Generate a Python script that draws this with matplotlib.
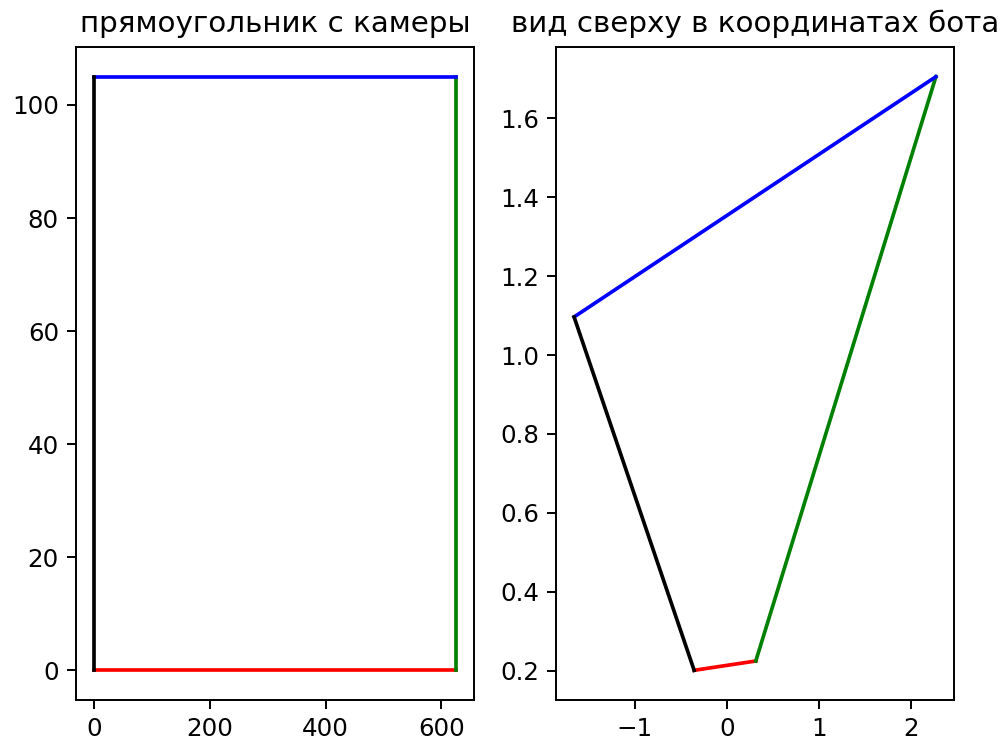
import matplotlib
matplotlib.use("Agg")
import matplotlib.pyplot as plt

# rectangle seen by the camera (pixel coords), corners in drawing order
cam_x = [0, 625, 625, 0, 0]
cam_y = [0, 0, 105, 105, 0]

# same rectangle in bot coordinates (top view)
bot_x = [-0.354, 0.315, 2.27, -1.657, -0.354]
bot_y = [0.201, 0.2246, 1.7054, 1.0965, 0.201]

edge_colors = ["red", "green", "blue", "black"]

DPI = 176
W, H = 1006, 741
fig = plt.figure(figsize=(W / DPI, H / DPI), dpi=DPI)


def px_axes(left, top, right, bottom):
    return fig.add_axes([left / W, 1 - bottom / H, (right - left) / W, (bottom - top) / H])


ax1 = px_axes(76, 47, 474, 700)
ax2 = px_axes(556, 47, 954, 700)

for ax, xs, ys in [(ax1, cam_x, cam_y), (ax2, bot_x, bot_y)]:
    for i, c in enumerate(edge_colors):
        ax.plot(xs[i:i + 2], ys[i:i + 2], color=c)

ax1.set_title("прямоугольник с камеры")
ax2.set_title("вид сверху в координатах бота")

fig.savefig("out.png", dpi=DPI)
